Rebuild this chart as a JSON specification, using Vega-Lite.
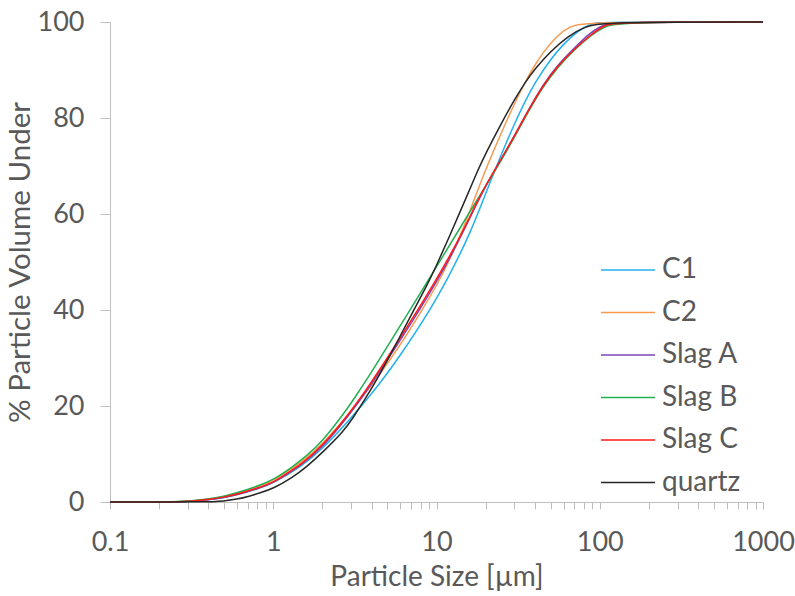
{
  "$schema": "https://vega.github.io/schema/vega-lite/v6.json",
  "autosize": {"type": "none"},
  "padding": {"left": 110, "top": 22, "right": 32, "bottom": 94},
  "width": 653,
  "height": 480,
  "background": "white",
  "config": {
    "view": {"stroke": null},
    "font": "Lato",
    "axis": {"grid": false, "domainColor": "#bfbfbf", "tickColor": "#bfbfbf", "labelColor": "#595959", "titleColor": "#595959", "labelFont": "Lato", "titleFont": "Lato", "labelFontSize": 27, "titleFontSize": 28, "titleFontWeight": "normal"},
    "legend": {"labelFont": "Lato", "labelFontSize": 28, "labelColor": "#595959", "padding": 0}
  },
  "datasets": {
    "curves": [
      {"s":"C1","x":0.1,"y":0},{"s":"C1","x":0.25,"y":0},{"s":"C1","x":0.3,"y":0.1},{"s":"C1","x":0.4,"y":0.45},{"s":"C1","x":0.5,"y":0.9},{"s":"C1","x":0.6,"y":1.5},{"s":"C1","x":0.8,"y":2.7},{"s":"C1","x":1,"y":3.9},{"s":"C1","x":1.5,"y":7.5},{"s":"C1","x":2,"y":11},{"s":"C1","x":3,"y":17.5},{"s":"C1","x":4,"y":22.5},{"s":"C1","x":5,"y":26.8},{"s":"C1","x":6,"y":30.6},{"s":"C1","x":7.4,"y":35.2},{"s":"C1","x":9,"y":39.8},{"s":"C1","x":10,"y":42.4},{"s":"C1","x":12,"y":47.3},{"s":"C1","x":14,"y":51.8},{"s":"C1","x":16,"y":56},{"s":"C1","x":18.6,"y":61.5},{"s":"C1","x":22,"y":67.8},{"s":"C1","x":25,"y":72.5},{"s":"C1","x":30,"y":78.8},{"s":"C1","x":35,"y":83.6},{"s":"C1","x":40,"y":87.3},{"s":"C1","x":50,"y":92.3},{"s":"C1","x":60,"y":95.4},{"s":"C1","x":70,"y":97.5},{"s":"C1","x":80,"y":98.9},{"s":"C1","x":90,"y":99.7},{"s":"C1","x":100,"y":100},{"s":"C1","x":1000,"y":100},
      {"s":"C2","x":0.1,"y":0},{"s":"C2","x":0.25,"y":0},{"s":"C2","x":0.3,"y":0.15},{"s":"C2","x":0.4,"y":0.55},{"s":"C2","x":0.5,"y":1.1},{"s":"C2","x":0.6,"y":1.8},{"s":"C2","x":0.8,"y":3.1},{"s":"C2","x":1,"y":4.4},{"s":"C2","x":1.5,"y":8.3},{"s":"C2","x":2,"y":12},{"s":"C2","x":3,"y":18.8},{"s":"C2","x":4,"y":24.3},{"s":"C2","x":5,"y":28.8},{"s":"C2","x":6.7,"y":35.2},{"s":"C2","x":8,"y":39.6},{"s":"C2","x":10,"y":45},{"s":"C2","x":12,"y":50.4},{"s":"C2","x":14,"y":55.5},{"s":"C2","x":16.6,"y":62},{"s":"C2","x":20,"y":69.3},{"s":"C2","x":25,"y":77},{"s":"C2","x":30,"y":83},{"s":"C2","x":35,"y":87.6},{"s":"C2","x":40,"y":91},{"s":"C2","x":45,"y":93.7},{"s":"C2","x":55,"y":97.2},{"s":"C2","x":65,"y":99},{"s":"C2","x":80,"y":100},{"s":"C2","x":1000,"y":100},
      {"s":"Slag A","x":0.1,"y":0},{"s":"Slag A","x":0.25,"y":0},{"s":"Slag A","x":0.3,"y":0.1},{"s":"Slag A","x":0.4,"y":0.45},{"s":"Slag A","x":0.5,"y":0.95},{"s":"Slag A","x":0.6,"y":1.5},{"s":"Slag A","x":0.8,"y":2.8},{"s":"Slag A","x":1,"y":3.9},{"s":"Slag A","x":1.5,"y":7.8},{"s":"Slag A","x":2,"y":11.3},{"s":"Slag A","x":3,"y":18.6},{"s":"Slag A","x":4,"y":24.6},{"s":"Slag A","x":5,"y":29.6},{"s":"Slag A","x":7,"y":37.2},{"s":"Slag A","x":10,"y":45.8},{"s":"Slag A","x":12.5,"y":51.8},{"s":"Slag A","x":15,"y":57.2},{"s":"Slag A","x":17.4,"y":61.8},{"s":"Slag A","x":20,"y":65.8},{"s":"Slag A","x":25,"y":71.5},{"s":"Slag A","x":30,"y":76.3},{"s":"Slag A","x":36.7,"y":81.8},{"s":"Slag A","x":45,"y":87},{"s":"Slag A","x":55,"y":91},{"s":"Slag A","x":70,"y":94.6},{"s":"Slag A","x":85,"y":97.4},{"s":"Slag A","x":100,"y":99.1},{"s":"Slag A","x":120,"y":100},{"s":"Slag A","x":1000,"y":100},
      {"s":"Slag B","x":0.1,"y":0},{"s":"Slag B","x":0.25,"y":0},{"s":"Slag B","x":0.3,"y":0.15},{"s":"Slag B","x":0.4,"y":0.6},{"s":"Slag B","x":0.5,"y":1.2},{"s":"Slag B","x":0.6,"y":1.9},{"s":"Slag B","x":0.8,"y":3.3},{"s":"Slag B","x":1,"y":4.6},{"s":"Slag B","x":1.3,"y":7.2},{"s":"Slag B","x":1.6,"y":9.6},{"s":"Slag B","x":2,"y":12.6},{"s":"Slag B","x":2.7,"y":18.4},{"s":"Slag B","x":3,"y":20.6},{"s":"Slag B","x":4,"y":27},{"s":"Slag B","x":5,"y":32.4},{"s":"Slag B","x":7,"y":40.4},{"s":"Slag B","x":10,"y":49},{"s":"Slag B","x":14,"y":57.2},{"s":"Slag B","x":17.4,"y":62.5},{"s":"Slag B","x":20,"y":65.8},{"s":"Slag B","x":25,"y":71.2},{"s":"Slag B","x":30,"y":76},{"s":"Slag B","x":36.7,"y":81.5},{"s":"Slag B","x":45,"y":86.6},{"s":"Slag B","x":55,"y":90.5},{"s":"Slag B","x":70,"y":94.3},{"s":"Slag B","x":90,"y":97.4},{"s":"Slag B","x":105,"y":98.9},{"s":"Slag B","x":130,"y":100},{"s":"Slag B","x":1000,"y":100},
      {"s":"Slag C","x":0.1,"y":0},{"s":"Slag C","x":0.25,"y":0},{"s":"Slag C","x":0.3,"y":0.1},{"s":"Slag C","x":0.4,"y":0.5},{"s":"Slag C","x":0.5,"y":1.0},{"s":"Slag C","x":0.6,"y":1.6},{"s":"Slag C","x":0.8,"y":2.9},{"s":"Slag C","x":1,"y":4.0},{"s":"Slag C","x":1.3,"y":6.6},{"s":"Slag C","x":1.5,"y":8.0},{"s":"Slag C","x":2,"y":11.6},{"s":"Slag C","x":3,"y":18.9},{"s":"Slag C","x":4,"y":25},{"s":"Slag C","x":5,"y":30},{"s":"Slag C","x":7,"y":37.8},{"s":"Slag C","x":10,"y":46.4},{"s":"Slag C","x":12.5,"y":52.2},{"s":"Slag C","x":15,"y":57.4},{"s":"Slag C","x":17.4,"y":62},{"s":"Slag C","x":20,"y":66},{"s":"Slag C","x":25,"y":71.5},{"s":"Slag C","x":30,"y":76.2},{"s":"Slag C","x":36.7,"y":81.7},{"s":"Slag C","x":45,"y":86.8},{"s":"Slag C","x":55,"y":90.8},{"s":"Slag C","x":70,"y":94.4},{"s":"Slag C","x":88,"y":97.3},{"s":"Slag C","x":105,"y":99.2},{"s":"Slag C","x":125,"y":100},{"s":"Slag C","x":1000,"y":100},
      {"s":"quartz","x":0.1,"y":0},{"s":"quartz","x":0.4,"y":0},{"s":"quartz","x":0.5,"y":0.2},{"s":"quartz","x":0.6,"y":0.6},{"s":"quartz","x":0.7,"y":1.1},{"s":"quartz","x":0.83,"y":1.9},{"s":"quartz","x":1,"y":2.8},{"s":"quartz","x":1.3,"y":5},{"s":"quartz","x":1.6,"y":7.3},{"s":"quartz","x":2,"y":10.3},{"s":"quartz","x":2.7,"y":14.8},{"s":"quartz","x":3,"y":16.9},{"s":"quartz","x":4,"y":23.5},{"s":"quartz","x":5,"y":29.5},{"s":"quartz","x":6,"y":34.6},{"s":"quartz","x":7,"y":39},{"s":"quartz","x":8.9,"y":45.6},{"s":"quartz","x":10,"y":49.3},{"s":"quartz","x":12,"y":55.3},{"s":"quartz","x":14.6,"y":62},{"s":"quartz","x":18,"y":69.3},{"s":"quartz","x":20,"y":72.6},{"s":"quartz","x":24.7,"y":78.6},{"s":"quartz","x":30,"y":83.8},{"s":"quartz","x":35,"y":87.5},{"s":"quartz","x":40,"y":90.2},{"s":"quartz","x":50,"y":93.9},{"s":"quartz","x":63.6,"y":97},{"s":"quartz","x":80,"y":99},{"s":"quartz","x":106,"y":100},{"s":"quartz","x":1000,"y":100}
    ]
  },
  "data": {"name": "curves"},
  "mark": {"type": "line", "interpolate": "basis", "strokeWidth": 1.5},
  "encoding": {
    "x": {
      "field": "x", "type": "quantitative",
      "scale": {"type": "log", "domain": [0.1, 1000], "nice": false},
      "axis": {
        "title": "Particle Size [µm]",
        "values": [0.1,0.2,0.3,0.4,0.5,0.6,0.7,0.8,0.9,1,2,3,4,5,6,7,8,9,10,20,30,40,50,60,70,80,90,100,200,300,400,500,600,700,800,900,1000],
        "labelExpr": "indexof(['0.1','1','10','100','1000'], format(datum.value, '~g')) >= 0 ? format(datum.value, '~g') : ''",
        "labelOverlap": false, "labelFlush": false, "labelBound": false,
        "tickSize": 7, "labelPadding": 20, "titlePadding": 8
      }
    },
    "y": {
      "field": "y", "type": "quantitative",
      "scale": {"domain": [0, 100], "nice": false},
      "axis": {"title": "% Particle Volume Under", "values": [0,20,40,60,80,100], "tickSize": 10, "labelPadding": 16, "titlePadding": 2, "titleFontSize": 29.5}
    },
    "color": {
      "field": "s", "type": "nominal",
      "scale": {"domain": ["C1","C2","Slag A","Slag B","Slag C","quartz"], "range": ["#22B0F0","#F79A50","#7A45B8","#20B050","#FF1A1A","#262626"]},
      "legend": {"title": null, "orient": "none", "legendX": 502, "legendY": 232, "symbolType": "M-1.8,0H1.8", "symbolSize": 900, "symbolStrokeWidth": 1.5, "rowPadding": 12.5, "labelOffset": 18}
    }
  }
}
